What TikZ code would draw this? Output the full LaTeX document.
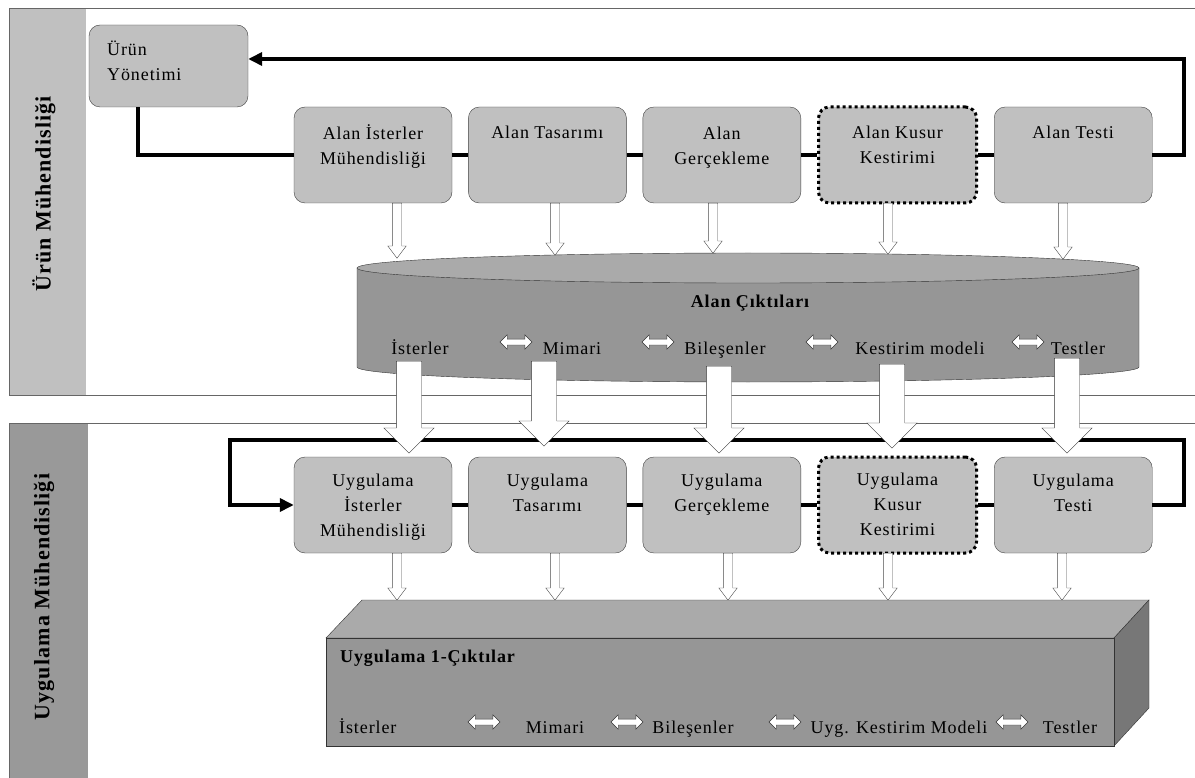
\documentclass[tikz,border=0pt]{standalone}
\usepackage{fontspec}
\setmainfont{Liberation Serif}[LetterSpace=5]
\usetikzlibrary{positioning}
\usetikzlibrary{arrows.meta}
\usetikzlibrary{shapes.arrows}

\definecolor{boxgray}{HTML}{C0C0C0}
\definecolor{stripdark}{HTML}{999999}
\definecolor{outgray}{HTML}{969696}
\definecolor{outlight}{HTML}{AAAAAA}
\definecolor{outside}{HTML}{777777}

\newcommand{\bodyfont}{\fontsize{18}{25}\selectfont}

\tikzset{
  task/.style={draw=black!75, fill=boxgray, rounded corners=11pt, minimum width=158pt, minimum height=96pt, inner sep=0pt},
  taskdot/.style={task, draw=black, line width=3pt, dash pattern=on 3pt off 3pt},
  tasktext/.style={anchor=base, align=center, inner sep=0pt},
  flow/.style={line width=4pt, line join=miter},
  flowtip/.style={flow, -{Triangle[length=14pt, width=13pt]}},
  smallarrow/.style={single arrow, draw=black!70, fill=white, rotate=-90, inner sep=0pt, inner ysep=4.5pt, single arrow head extend=4.5pt, single arrow tip angle=74},
  bigarrow/.style={single arrow, draw=black!80, fill=white, rotate=-90, inner sep=0pt, inner ysep=12.5pt, single arrow head extend=12.5pt},
  xchg/.style={double arrow, draw=black!80, fill=white, minimum height=32pt, inner sep=0pt, inner ysep=2.75pt, double arrow head extend=4.25pt},
  outlbl/.style={anchor=base, inner sep=0pt},
  side/.style={rotate=90, font=\fontsize{22}{24}\selectfont\bfseries},
}

\begin{document}
\begin{tikzpicture}[x=1pt, y=-1pt, font=\bodyfont]
  \useasboundingbox (0,0) rectangle (1195,778);

  % the two lanes
  \fill[boxgray] (9,8) rectangle (86,395);
  \fill[stripdark] (9,423) rectangle (88,778);
  \draw[black!60] (1195,8) -- (9,8) -- (9,395) -- (1195,395);
  \draw[black!60] (1195,423) -- (9,423) -- (9,778);
  \node[side] (lane1) at (44,194) {Ürün Mühendisliği};
  \node[side] (lane2) at (44,597) {Uygulama Mühendisliği};

  % product management
  \node[task, minimum width=159pt, minimum height=82pt] (uy) at (168.5,66) {};
  \node[align=left, anchor=base west, inner sep=0pt] (uyt) at (107,81) {Ürün\\Yönetimi};

  % domain engineering row (base of a text node is its last line)
  \node[task] (a1) at (373,155) {};
  \node[task, right=16pt of a1] (a2) {};
  \node[task, right=16pt of a2] (a3) {};
  \node[taskdot, right=16pt of a3] (a4) {};
  \node[task, right=16pt of a4] (a5) {};
  \node[tasktext] (a1t) at ([yshift=-58pt]a1.north) {Alan İsterler\\Mühendisliği};
  \node[tasktext] (a2t) at ([yshift=-32pt]a2.north) {Alan Tasarımı};
  \node[tasktext] (a3t) at ([yshift=-58pt]a3.north) {Alan\\Gerçekleme};
  \node[tasktext] (a4t) at ([yshift=-58pt]a4.north) {Alan Kusur\\Kestirimi};
  \node[tasktext] (a5t) at ([yshift=-32pt]a5.north) {Alan Testi};

  \draw[flow] ([xshift=-31pt]uy.south) |- (a1.west);
  \draw[flow] (a1) -- (a2) (a2) -- (a3) (a3) -- (a4) (a4) -- (a5);
  \draw[flowtip] (a5.east) -- ++(32,0) |- ([yshift=7pt]uy.east);

  % domain artefacts
  \filldraw[fill=outgray, draw=black!80] (357,268) -- (357,367)
    arc[start angle=180, end angle=360, x radius=391pt, y radius=15pt] -- (1139,268) -- cycle;
  \filldraw[fill=outlight, draw=black!80] (748,268) ellipse[x radius=391pt, y radius=15pt];
  \node[outlbl, font=\bodyfont\bfseries] (cyl) at (750,308) {Alan Çıktıları};
  \node[outlbl] (c1) at (420,355) {İsterler};
  \node[outlbl] (c2) at (572,355) {Mimari};
  \node[outlbl] (c3) at (725,355) {Bileşenler};
  \node[outlbl] (c4) at (920,355) {Kestirim modeli};
  \node[outlbl] (c5) at (1078,355) {Testler};
  \foreach \x [count=\i] in {516,658,822,1028}
    \node[xchg] (cx\i) at (\x,342) {};

  \foreach \x/\t [count=\i] in {397/258, 555/255, 713/253, 888/254, 1063/259}
    \node[smallarrow, minimum height={\t-203}, anchor=tail] (da\i) at (\x,203) {};

  % application engineering row
  \node[task] (b1) at (373,505) {};
  \node[task, right=16pt of b1] (b2) {};
  \node[task, right=16pt of b2] (b3) {};
  \node[taskdot, right=16pt of b3] (b4) {};
  \node[task, right=16pt of b4] (b5) {};
  \node[tasktext] (b1t) at ([yshift=-80pt]b1.north) {Uygulama\\İsterler\\Mühendisliği};
  \node[tasktext] (b2t) at ([yshift=-55pt]b2.north) {Uygulama\\Tasarımı};
  \node[tasktext] (b3t) at ([yshift=-55pt]b3.north) {Uygulama\\Gerçekleme};
  \node[tasktext] (b4t) at ([yshift=-80pt]b4.north) {Uygulama\\Kusur\\Kestirimi};
  \node[tasktext] (b5t) at ([yshift=-55pt]b5.north) {Uygulama\\Testi};

  \coordinate (back) at (230,440);
  \draw[flow] (b1) -- (b2) (b2) -- (b3) (b3) -- (b4) (b4) -- (b5);
  \draw[flowtip] (b5.east) -- ++(32,0) |- (back) |- (b1.west);

  % artefacts handed down to the application
  \foreach \x/\s/\t [count=\i] in {409/361/453, 544/361/446, 719/366/453, 892/364/448, 1067/358/453}
    \node[bigarrow, minimum height={\t-\s}, anchor=tail] (ba\i) at (\x,\s) {};

  \foreach \x [count=\i] in {397,555,728,888,1062}
    \node[smallarrow, minimum height=47pt, anchor=tail] (ua\i) at (\x,553) {};

  % application artefacts
  \filldraw[fill=outlight, draw=black!80] (326,638) -- (362,600) -- (1149,600) -- (1114,638) -- cycle;
  \filldraw[fill=outside, draw=black!80] (1114,638) -- (1149,600) -- (1149,708) -- (1114,746) -- cycle;
  \filldraw[fill=outgray, draw=black!80] (326,638) rectangle (1114,746);
  \node[outlbl, anchor=base west, font=\bodyfont\bfseries] (blk) at (340,662) {Uygulama 1-Çıktılar};
  \node[outlbl, anchor=base west] (u1) at (339,733) {İsterler};
  \node[outlbl] (u2) at (555,733) {Mimari};
  \node[outlbl] (u3) at (693,733) {Bileşenler};
  \node[outlbl] (u4) at (899,733) {Uyg. Kestirim Modeli};
  \node[outlbl] (u5) at (1070,733) {Testler};
  \foreach \x [count=\i] in {484,627,785,1012}
    \node[xchg] (ux\i) at (\x,722) {};
\end{tikzpicture}
\end{document}
